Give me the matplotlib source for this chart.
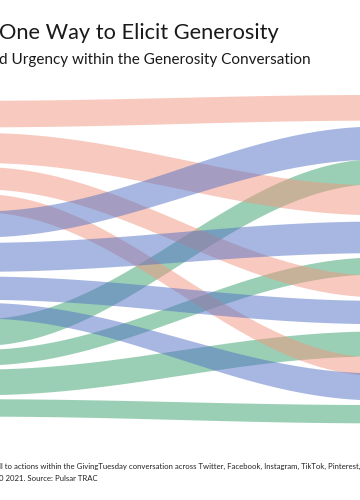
import numpy as np
import matplotlib
matplotlib.use("Agg")
import matplotlib.pyplot as plt

# ---- data (band edges at the two visible ends, chart units, top = small) ----
groups = ["red", "red", "red", "red",
          "blue", "blue", "blue", "blue",
          "green", "green", "green", "green"]
left_top = [100.7, 133.3, 167.7, 195.0, 211.0, 242.7, 276.7, 303.3, 318.3, 349.3, 369.3, 399.3]
left_bot = [127.3, 163.3, 190.0, 213.3, 237.0, 271.7, 300.0, 319.0, 345.0, 365.0, 395.0, 416.7]
right_top = [95.0, 185.0, 275.0, 356.7, 127.0, 221.7, 300.7, 373.0, 160.0, 258.0, 331.7, 405.0]
right_bot = [120.7, 215.0, 296.7, 375.0, 160.0, 253.3, 324.0, 400.0, 185.0, 275.0, 356.7, 423.3]

title = "One Way to Elicit Generosity"
subtitle = "d Urgency within the Generosity Conversation"
note1 = "ll to actions within the GivingTuesday conversation across Twitter, Facebook, Instagram, TikTok, Pinterest,"
note2 = "0 2021. Source: Pulsar TRAC"

colors = {"red": "#F2957F", "blue": "#5371C5", "green": "#39A16D"}
zorder = {"green": 1, "red": 2, "blue": 3}

plt.rcParams['font.family'] = ['Lato', 'DejaVu Sans']

fig = plt.figure(figsize=(3.6, 5.0), dpi=100)
ax = fig.add_axes([0, 0, 1, 1])
ax.set_xlim(0, 1)
ax.set_ylim(500, 0)
ax.axis("off")

x = np.linspace(0, 1, 300)
s0 = 0.05
p = lambda s: (1 - np.cos(np.pi * s)) / 2
s = s0 + (1 - 2 * s0) * x
f = (p(s) - p(s0)) / (p(1 - s0) - p(s0))

for g, lt, lb, rt, rb in zip(groups, left_top, left_bot, right_top, right_bot):
    top = lt + (rt - lt) * f
    bot = lb + (rb - lb) * f
    ax.fill_between(x, top, bot, color=colors[g], alpha=0.5, lw=0, zorder=zorder[g])

fig.text(-0.002, 1 - 39 / 500, title, fontsize=15.7, color="#1a1a1a", va="baseline", ha="left")
fig.text(-0.002, 1 - 64 / 500, subtitle, fontsize=11.0, color="#1a1a1a", va="baseline", ha="left")
fig.text(-0.002, 1 - 469 / 500, note1, fontsize=5.6, color="#222222", va="baseline", ha="left")
fig.text(-0.002, 1 - 481 / 500, note2, fontsize=5.6, color="#222222", va="baseline", ha="left")

fig.savefig("out.png", dpi=100)
